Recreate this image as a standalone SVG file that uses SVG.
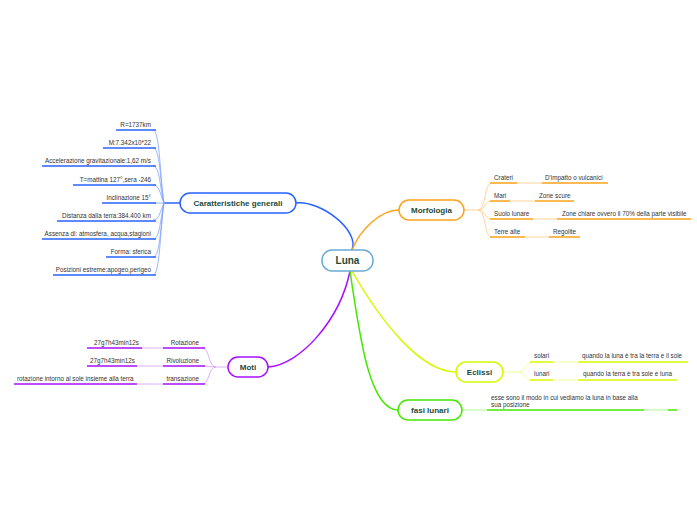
<svg xmlns="http://www.w3.org/2000/svg" width="697" height="520" viewBox="0 0 697 520">
<style>
text{font-family:"Liberation Sans",Arial,sans-serif}
.t{font-size:6.3px;fill:#333}
.n{font-size:8px;font-weight:bold;fill:#1c4a3a}
.bl{stroke:#2a62ff;stroke-width:1.5;fill:none}
.blt{stroke:#7fa3ff;stroke-width:.8;fill:none}
.or{stroke:#ffa21a;stroke-width:1.5;fill:none}
.ort{stroke:#ffc980;stroke-width:.8;fill:none}
.ye{stroke:#d8f800;stroke-width:1.5;fill:none}
.yet{stroke:#ecff80;stroke-width:.8;fill:none}
.gr{stroke:#44e800;stroke-width:1.5;fill:none}
.grt{stroke:#9ff57a;stroke-width:.8;fill:none}
.pu{stroke:#a70fff;stroke-width:1.5;fill:none}
.put{stroke:#d49cff;stroke-width:.8;fill:none}
</style>
<rect width="697" height="520" fill="#fff"/>
<g id="connectors">
<path class="bl" d="M352 250 C360 230 320 200 296 203"/>
<path class="or" d="M352 250 C360 230 380 210 399 210"/>
<path class="pu" d="M350 271 C340 320 300 365 268 367"/>
<path class="ye" d="M352 271 C380 320 420 372 456 372"/>
<path class="gr" d="M350 271 C360 340 370 410 398 410"/>
<path class="bl" d="M180 203 L164 203"/>
<g class="blt">
<path d="M164 203 C160 180 160 130 153 130"/><path d="M164 203 C160 180 160 148 153 148"/><path d="M164 203 C160 190 160 166 153 166"/><path d="M164 203 C160 195 160 185 153 185"/><path d="M164 203 L153 203"/><path d="M164 203 C160 210 160 220 153 220"/><path d="M164 203 C160 220 160 239 153 239"/><path d="M164 203 C160 230 160 257 153 257"/><path d="M164 203 C160 230 160 275 153 275"/>
</g>
<g class="bl">
<path d="M116 130H156"/><path d="M103 148H156"/><path d="M42 166H156"/><path d="M73 185H156"/><path d="M102 203H156"/><path d="M57 221H156"/><path d="M42 239H156"/><path d="M106 257H156"/><path d="M53 275H156"/>
</g>
<g class="ort">
<path d="M464 210 H478 C486 210 484 183 492 183"/><path d="M478 210 C486 210 484 201 492 201"/><path d="M478 210 C486 210 484 219 492 219"/><path d="M478 210 C486 210 484 237 492 237"/>
<path d="M517 183H542"/><path d="M510 201H535"/><path d="M533 219H557"/><path d="M525 237H549"/>
</g>
<g class="or">
<path d="M490 183H517"/><path d="M542 183H608"/><path d="M490 201H510"/><path d="M535 201H574"/><path d="M490 219H533"/><path d="M557 219H691"/><path d="M490 237H525"/><path d="M549 237H580"/>
</g>
<g class="yet">
<path d="M503 372 H518 C526 372 524 362 532 362"/><path d="M518 372 C526 372 524 380 532 380"/>
<path d="M553 362H578"/><path d="M553 380H578"/>
</g>
<g class="ye">
<path d="M530 362H553"/><path d="M578 362H688"/><path d="M530 380H553"/><path d="M578 380H677"/>
</g>
<path class="grt" d="M462 410H487"/>
<path class="gr" d="M487 410H644"/>
<path class="grt" d="M644 410H668"/>
<path class="gr" d="M668 410H677"/>
<g class="put">
<path d="M228 367 H216 C208 367 210 348 202 348"/><path d="M216 367 L202 366"/><path d="M216 367 C208 367 210 384 202 384"/>
<path d="M142 348H163"/><path d="M137 366H163"/><path d="M137 384H163"/>
</g>
<g class="pu">
<path d="M163 348H205"/><path d="M87 348H142"/><path d="M163 366H205"/><path d="M87 366H137"/><path d="M163 384H205"/><path d="M14 384H137"/>
</g>
</g>
<g id="luna"><rect x="322" y="250" width="51" height="21" rx="10" fill="#fff" stroke="#6aaad8" stroke-width="1.5"/><text x="347.5" y="264" text-anchor="middle" style="font-size:10px;font-weight:bold;fill:#1c4a3a">Luna</text></g>
<g id="caratteristiche"><rect x="180" y="193" width="116" height="20" rx="10" fill="#fff" stroke="#2a62ff" stroke-width="1.5"/><text class="n" x="238" y="206" text-anchor="middle">Caratteristiche generali</text></g>
<g id="car-leaves" class="t" text-anchor="end">
<text x="151" y="127">R=1737km</text><text x="151" y="145">M:7.342x10*22</text><text x="151" y="163">Accelerazione gravitazionale:1,62 m/s</text><text x="151" y="182">T=mattina 127°,sera -246</text><text x="151" y="200">Inclinazione 15°</text><text x="151" y="218">Distanza dalla terra:384.400 km</text><text x="151" y="236">Assenza di: atmosfera, acqua,stagioni</text><text x="151" y="254">Forma: sferica</text><text x="151" y="272">Posizioni estreme:apogeo,perigeo</text>
</g>
<g id="morfologia"><rect x="399" y="200" width="65" height="20" rx="10" fill="#fff" stroke="#ffa21a" stroke-width="1.5"/><text class="n" x="431.5" y="213" text-anchor="middle">Morfologia</text></g>
<g id="morf-leaves" class="t">
<text x="494" y="180">Crateri</text><text x="545" y="180">D'impatto o vulcanici</text><text x="494" y="198">Mari</text><text x="539" y="198">Zone scure</text><text x="494" y="216">Suolo lunare</text><text x="562" y="216">Zone chiare ovvero il 70% della parte visibile</text><text x="494" y="234">Terre alte</text><text x="553" y="234">Regolite</text>
</g>
<g id="eclissi"><rect x="456" y="362" width="47" height="20" rx="10" fill="#fff" stroke="#d8f800" stroke-width="1.5"/><text class="n" x="479.5" y="375" text-anchor="middle">Eclissi</text></g>
<g id="ecl-leaves" class="t"><text x="534" y="358">solari</text><text x="582" y="358">quando la luna è tra la terra e il sole</text><text x="534" y="376">lunari</text><text x="583" y="376">quando la terra è tra sole e luna</text></g>
<g id="fasi"><rect x="398" y="400" width="64" height="20" rx="10" fill="#fff" stroke="#44e800" stroke-width="1.5"/><text class="n" x="430" y="413" text-anchor="middle">fasi lunari</text></g>
<g id="fasi-leaf" class="t"><text x="491" y="400">esse sono il modo in cui vediamo la luna in base alla</text><text x="491" y="406.5">sua posizione</text></g>
<g id="moti"><rect x="228" y="357" width="40" height="20" rx="10" fill="#fff" stroke="#a70fff" stroke-width="1.5"/><text class="n" x="248" y="370" text-anchor="middle">Moti</text></g>
<g id="moti-leaves" class="t">
<text x="199" y="345" text-anchor="end">Rotazione</text><text x="94" y="345">27g7h43min12s</text><text x="199" y="363" text-anchor="end">Rivoluzione</text><text x="90" y="363">27g7h43min12s</text><text x="199" y="381" text-anchor="end">transazione</text><text x="17" y="381">rotazione intorno al sole insieme alla terra</text>
</g>
</svg>
